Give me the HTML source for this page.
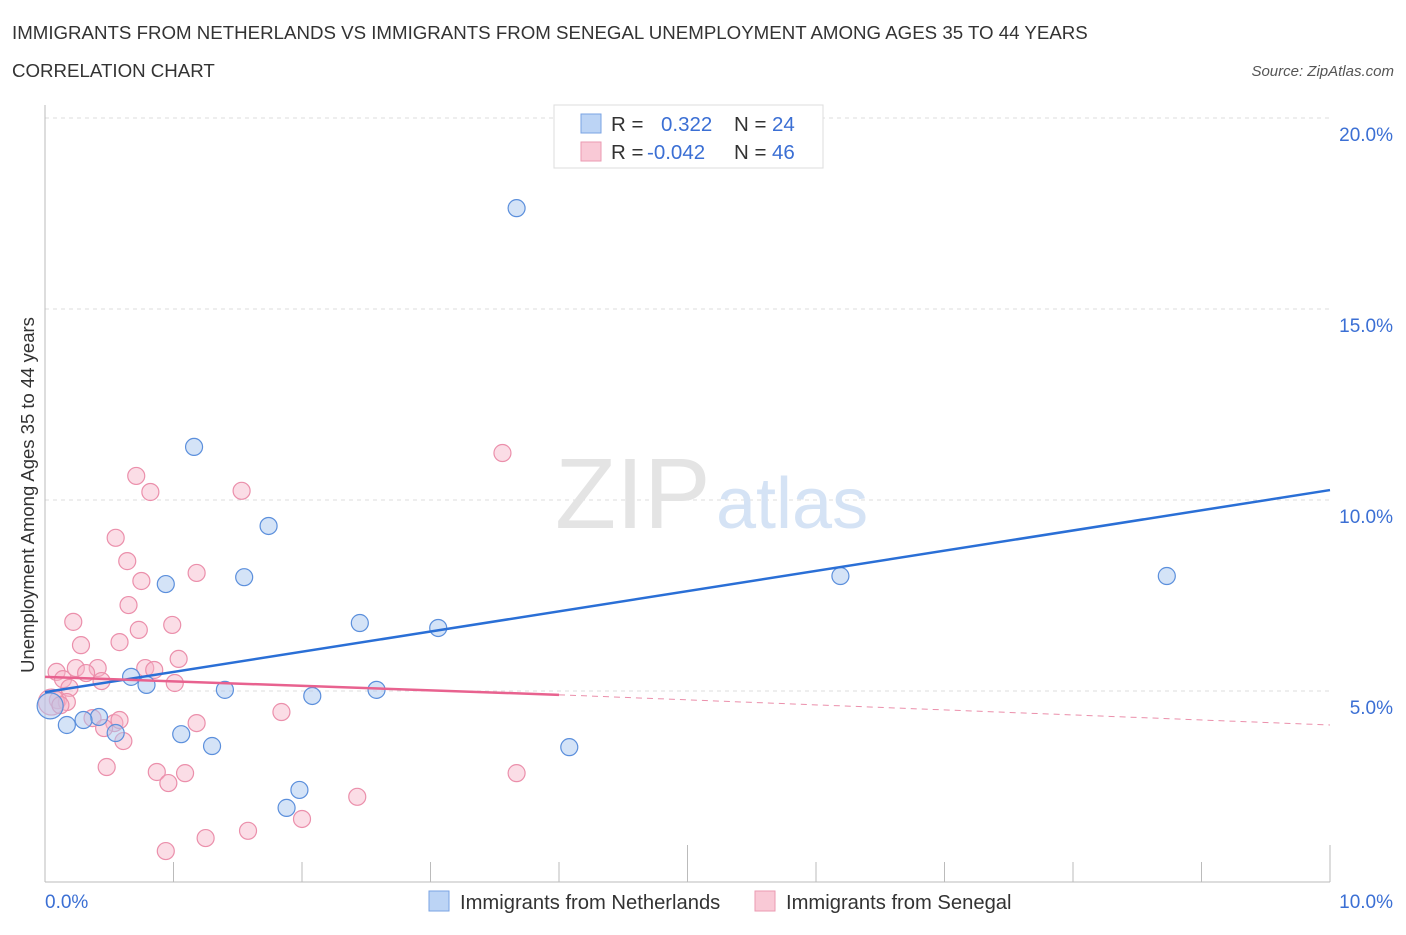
<!DOCTYPE html>
<html><head><meta charset="utf-8"><style>
body{margin:0;background:#fff;font-family:"Liberation Sans",sans-serif;}
svg text{font-family:"Liberation Sans",sans-serif;}
</style></head><body>
<svg width="1406" height="930" xmlns="http://www.w3.org/2000/svg">
<text x="12" y="39" font-size="18.7" fill="#333">IMMIGRANTS FROM NETHERLANDS VS IMMIGRANTS FROM SENEGAL UNEMPLOYMENT AMONG AGES 35 TO 44 YEARS</text>
<text x="12" y="77" font-size="18.7" fill="#333">CORRELATION CHART</text>
<text x="1394" y="76" font-size="15" fill="#555" font-style="italic" text-anchor="end">Source: ZipAtlas.com</text>
<g id="grid"></g>
<text x="555" y="528" font-size="100" fill="#e4e4e4" font-family="Liberation Serif">ZIP</text>
<text x="716" y="528" font-size="72" fill="#d5e3f5">atlas</text>
<line x1="45" y1="105" x2="45" y2="882" stroke="#bbb"/>
<line x1="45" y1="882" x2="1330" y2="882" stroke="#bbb"/>
<text transform="translate(34,495) rotate(-90)" font-size="18.5" fill="#333" text-anchor="middle">Unemployment Among Ages 35 to 44 years</text>
<text x="45" y="908" font-size="19" fill="#3b6fd4">0.0%</text>
<text x="1393" y="908" font-size="19" fill="#3b6fd4" text-anchor="end">10.0%</text>
<g id="points"></g>
<g id="trends"></g>
<g>
<rect x="554" y="105" width="269" height="63" fill="#fff" stroke="#ddd"/>
<rect x="581" y="114" width="20" height="19" fill="#bcd4f5" stroke="#7aa3e3"/>
<rect x="581" y="142" width="20" height="19" fill="#f9c9d6" stroke="#eb9ab2"/>
<text x="611" y="131" font-size="20.5" fill="#333">R = </text><text x="661" y="131" font-size="20.5" fill="#3b6fd4">0.322</text>
<text x="734" y="131" font-size="20.5" fill="#333">N = </text><text x="772" y="131" font-size="20.5" fill="#3b6fd4">24</text>
<text x="611" y="159" font-size="20.5" fill="#333">R = </text><text x="647" y="159" font-size="20.5" fill="#3b6fd4">-0.042</text>
<text x="734" y="159" font-size="20.5" fill="#333">N = </text><text x="772" y="159" font-size="20.5" fill="#3b6fd4">46</text>
</g>
<g>
<rect x="429" y="891" width="20" height="20" fill="#bcd4f5" stroke="#7aa3e3"/>
<text x="460" y="909" font-size="20.2" fill="#333">Immigrants from Netherlands</text>
<rect x="755" y="891" width="20" height="20" fill="#f9c9d6" stroke="#eb9ab2"/>
<text x="786" y="909" font-size="20.2" fill="#333">Immigrants from Senegal</text>
</g>
</svg>
<script>
const yTicks=[5,10,15,20];
const yTickLabels=["5.0%","10.0%","15.0%","20.0%"];
const blueX=[3.67,1.16,1.74,0.94,1.55,2.45,3.06,6.19,8.73,0.67,0.79,1.40,2.08,2.58,0.42,0.30,0.17,0.55,1.06,1.30,4.08,1.98,1.88,0.04];
const blueY=[17.64,11.39,9.32,7.80,7.98,6.78,6.65,8.01,8.01,5.37,5.16,5.03,4.87,5.03,4.32,4.24,4.11,3.90,3.87,3.56,3.53,2.41,1.94,4.61];
const pinkX=[3.56,0.71,0.82,1.53,0.55,0.64,0.75,1.18,0.65,0.22,0.73,0.99,0.28,0.58,1.04,0.09,0.24,0.41,0.78,0.85,0.32,0.14,0.44,1.01,0.19,0.10,0.17,0.37,0.54,0.46,1.18,0.61,1.84,0.48,0.87,1.09,3.67,0.96,2.43,2.00,1.58,1.25,0.94,0.05,0.12,0.58];
const pinkY=[11.23,10.63,10.21,10.24,9.01,8.40,7.88,8.09,7.25,6.81,6.60,6.73,6.20,6.28,5.84,5.50,5.60,5.60,5.60,5.55,5.47,5.31,5.26,5.21,5.08,4.76,4.71,4.29,4.16,4.03,4.16,3.69,4.45,3.01,2.88,2.85,2.85,2.59,2.23,1.65,1.34,1.15,0.81,4.71,4.63,4.24];
const blueTrend=[[0,4.97],[10,10.26]];
const pinkTrend=[[0,5.37],[4.0,4.90],[10,4.11]];
const xs=v=>45+v*128.5, ys=v=>882-v*38.2;
const NS="http://www.w3.org/2000/svg";
const grid=document.getElementById('grid');
yTicks.forEach((t,i)=>{
 const l=document.createElementNS(NS,'line');
 l.setAttribute('x1',45);l.setAttribute('x2',1330);l.setAttribute('y1',ys(t));l.setAttribute('y2',ys(t));
 l.setAttribute('stroke','#ddd');l.setAttribute('stroke-dasharray','4,4');
 
 
 grid.appendChild(l);
 const tx=document.createElementNS(NS,'text');
 tx.setAttribute('x',1393);tx.setAttribute('y',ys(t)+23);tx.setAttribute('text-anchor','end');
 tx.setAttribute('font-size','19');tx.setAttribute('fill','#3b6fd4');tx.textContent=yTickLabels[i];
 
 
 grid.appendChild(tx);
});
for(let i=1;i<=10;i++){
 const l=document.createElementNS(NS,'line');
 const x=xs(i);
 l.setAttribute('x1',x);l.setAttribute('x2',x);l.setAttribute('y1',i%5==0?845:862);l.setAttribute('y2',882);
 l.setAttribute('stroke','#bbb');
 
 
 grid.appendChild(l);
}
const pts=document.getElementById('points');
function dot(x,y,r,fill,stroke,name){
 const c=document.createElementNS(NS,'circle');
 c.setAttribute('cx',xs(x));c.setAttribute('cy',ys(y));c.setAttribute('r',r);
 c.setAttribute('fill',fill);c.setAttribute('stroke',stroke);c.setAttribute('stroke-width','1.2');
 
 
 pts.appendChild(c);
}
pinkX.forEach((x,i)=>dot(x,pinkY[i],i==43?13:8.5,'rgba(246,180,200,0.45)','#eb8fab','senegal-point'));
blueX.forEach((x,i)=>dot(x,blueY[i],i==23?13:8.5,'rgba(170,200,240,0.5)','#5b8fdc','netherlands-point'));
const tr=document.getElementById('trends');
function seg(a,b,col,w,dash,name){
 const l=document.createElementNS(NS,'line');
 l.setAttribute('x1',xs(a[0]));l.setAttribute('y1',ys(a[1]));l.setAttribute('x2',xs(b[0]));l.setAttribute('y2',ys(b[1]));
 l.setAttribute('stroke',col);l.setAttribute('stroke-width',w);if(dash)l.setAttribute('stroke-dasharray',dash);
 
 
 tr.appendChild(l);
}
seg(blueTrend[0],blueTrend[1],'#2a6fd6',2.5,null,'netherlands-trendline');
seg(pinkTrend[0],pinkTrend[1],'#e8628f',2.5,null,'senegal-trendline');
seg(pinkTrend[1],pinkTrend[2],'#eb8fab',1,'6,5','senegal-trendline-extension');
</script>
</body></html>
